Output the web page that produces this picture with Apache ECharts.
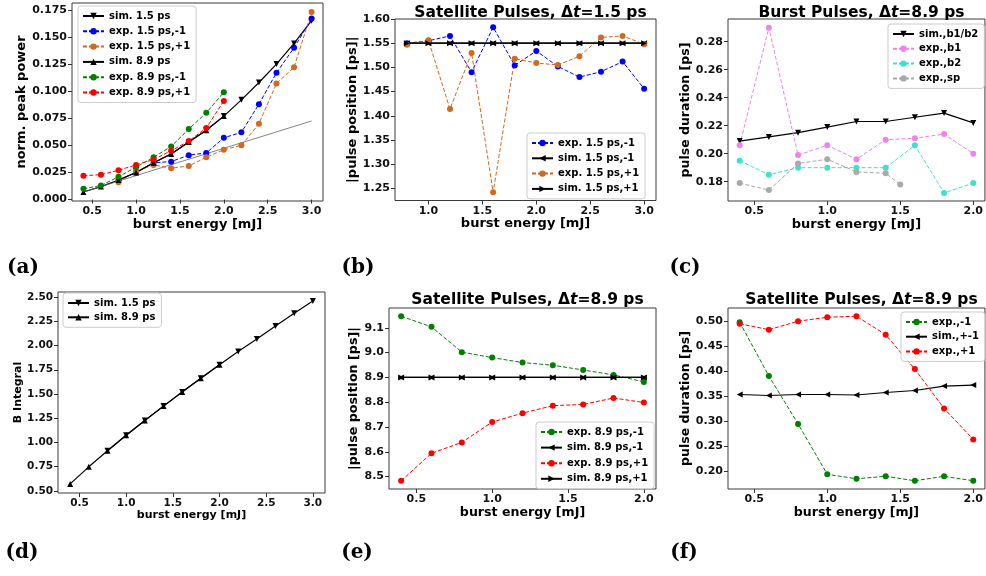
<!DOCTYPE html>
<html>
<head>
<meta charset="utf-8">
<script src="https://cdn.jsdelivr.net/npm/echarts@6/dist/echarts.min.js"></script>
<style>
  html, body { margin: 0; padding: 0; background: #fff; }
  #chart { width: 986px; height: 576px; }
</style>
</head>
<body>
<div id="chart"></div>
<script>
// ---- burst energies [mJ] ----
const energy04to30 = [0.4, 0.6, 0.8, 1.0, 1.2, 1.4, 1.6, 1.8, 2.0, 2.2, 2.4, 2.6, 2.8, 3.0];
const energy08to30 = [0.8, 1.0, 1.2, 1.4, 1.6, 1.8, 2.0, 2.2, 2.4, 2.6, 2.8, 3.0];
const energy04to20 = [0.4, 0.6, 0.8, 1.0, 1.2, 1.4, 1.6, 1.8, 2.0];
const energy04to15 = [0.4, 0.6, 0.8, 1.0, 1.2, 1.4, 1.5];

// ---- (a) normalised peak power ----
const peakSim15 = [0.018, 0.025, 0.034, 0.042, 0.053, 0.064, 0.077, 0.092, 0.108, 0.125, 0.144, 0.165];
const peakExp15m = [0.018, 0.025, 0.034, 0.035, 0.041, 0.043, 0.057, 0.062, 0.088, 0.117, 0.140, 0.167];
const peakExp15p = [0.016, 0.026, 0.032, 0.029, 0.031, 0.039, 0.046, 0.050, 0.070, 0.107, 0.122, 0.173];
const peakSim89 = [0.007, 0.012, 0.018, 0.025, 0.034, 0.042, 0.053, 0.064, 0.077];
const peakExp89m = [0.010, 0.013, 0.021, 0.030, 0.039, 0.049, 0.065, 0.080, 0.099];
const peakExp89p = [0.022, 0.023, 0.027, 0.032, 0.037, 0.045, 0.054, 0.066, 0.091];
const linearRefX = [0.4, 3.0];
const linearRefY = [0.007, 0.0725];

// ---- (b) satellite position, dt = 1.5 ps ----
const posExp15m = [1.550, 1.555, 1.565, 1.490, 1.583, 1.504, 1.534, 1.502, 1.480, 1.491, 1.512, 1.456];
const posSim15m = [1.55, 1.55, 1.55, 1.55, 1.55, 1.55, 1.55, 1.55, 1.55, 1.55, 1.55, 1.55];
const posExp15p = [1.547, 1.556, 1.414, 1.530, 1.242, 1.518, 1.509, 1.505, 1.523, 1.562, 1.565, 1.548];
const posSim15p = [1.55, 1.55, 1.55, 1.55, 1.55, 1.55, 1.55, 1.55, 1.55, 1.55, 1.55, 1.55];

// ---- (c) burst pulse duration, dt = 8.9 ps ----
const durSimB = [0.209, 0.212, 0.215, 0.219, 0.223, 0.223, 0.226, 0.229, 0.222];
const durExpB1 = [0.206, 0.290, 0.199, 0.206, 0.196, 0.210, 0.211, 0.214, 0.200];
const durExpB2 = [0.195, 0.185, 0.190, 0.190, 0.190, 0.190, 0.206, 0.172, 0.179];
const durExpSp = [0.179, 0.174, 0.193, 0.196, 0.187, 0.186, 0.178];

// ---- (d) B integral ----
const bIntSim15 = [0.915, 1.074, 1.227, 1.375, 1.521, 1.663, 1.801, 1.939, 2.067, 2.202, 2.334, 2.458];
const bIntSim89 = [0.573, 0.749, 0.915, 1.074, 1.227, 1.375, 1.521, 1.663, 1.801];

// ---- (e) satellite position, dt = 8.9 ps ----
const posExp89m = [9.147, 9.104, 9.002, 8.980, 8.960, 8.949, 8.930, 8.910, 8.882];
const posSim89m = [8.9, 8.9, 8.9, 8.9, 8.9, 8.9, 8.9, 8.9, 8.9];
const posExp89p = [8.483, 8.594, 8.638, 8.720, 8.756, 8.786, 8.791, 8.817, 8.799];
const posSim89p = [8.9, 8.9, 8.9, 8.9, 8.9, 8.9, 8.9, 8.9, 8.9];

// ---- (f) satellite pulse duration, dt = 8.9 ps ----
const satDurExpM = [0.498, 0.390, 0.294, 0.193, 0.184, 0.189, 0.180, 0.189, 0.180];
const satDurSim = [0.353, 0.351, 0.353, 0.353, 0.352, 0.357, 0.361, 0.370, 0.372];
const satDurExpP = [0.495, 0.483, 0.500, 0.508, 0.510, 0.473, 0.404, 0.325, 0.263];

// ---- tick labels ----
const ticksX30 = [0.5, 1.0, 1.5, 2.0, 2.5, 3.0];
const ticksX30b = [1.0, 1.5, 2.0, 2.5, 3.0];
const ticksX20 = [0.5, 1.0, 1.5, 2.0];
const ticksYa = [0.000, 0.025, 0.050, 0.075, 0.100, 0.125, 0.150, 0.175];
const ticksYb = [1.25, 1.30, 1.35, 1.40, 1.45, 1.50, 1.55, 1.60];
const ticksYc = [0.18, 0.20, 0.22, 0.24, 0.26, 0.28];
const ticksYd = [0.50, 0.75, 1.00, 1.25, 1.50, 1.75, 2.00, 2.25, 2.50];
const ticksYe = [8.5, 8.6, 8.7, 8.8, 8.9, 9.0, 9.1];
const ticksYf = [0.20, 0.25, 0.30, 0.35, 0.40, 0.45, 0.50];

const FONT = 'DejaVu Sans';
const zip = (xs, ys) => xs.map((x, i) => [x, ys[i]]);

// grid rectangles of the six panels
const grids = [
  { left: 72,  top: 3,   width: 251, height: 198 },
  { left: 395, top: 19,  width: 261, height: 181.5 },
  { left: 728, top: 19,  width: 257, height: 182 },
  { left: 58,  top: 292, width: 267, height: 201 },
  { left: 389, top: 308, width: 267, height: 181 },
  { left: 728, top: 308, width: 257, height: 181 }
].map(g => Object.assign({ show: true, borderColor: '#3a3a3a', borderWidth: 1, backgroundColor: 'transparent', containLabel: false }, g));

function xAxisFor(idx, min, max, ticks, dec, fs, nameSize, gap) {
  return {
    type: 'value', gridIndex: idx, min: min, max: max,
    name: 'burst energy [mJ]', nameLocation: 'middle', nameGap: gap,
    nameTextStyle: { fontFamily: FONT, fontWeight: 'bold', fontSize: nameSize, color: '#000' },
    axisLine: { show: false },
    axisTick: { show: true, length: 4, customValues: ticks, lineStyle: { color: '#333' } },
    axisLabel: { customValues: ticks, margin: 5, fontFamily: FONT, fontWeight: 'bold', fontSize: fs, color: '#111',
                 formatter: v => Number(v).toFixed(dec) },
    splitLine: { show: false }
  };
}
function yAxisFor(idx, min, max, ticks, dec, fs, name, nameSize, gap) {
  return {
    type: 'value', gridIndex: idx, min: min, max: max,
    name: name, nameLocation: 'middle', nameRotate: 90, nameGap: gap,
    nameTextStyle: { fontFamily: FONT, fontWeight: 'bold', fontSize: nameSize, color: '#000' },
    axisLine: { show: false },
    axisTick: { show: true, length: 4, customValues: ticks, lineStyle: { color: '#333' } },
    axisLabel: { customValues: ticks, margin: 5, fontFamily: FONT, fontWeight: 'bold', fontSize: fs, color: '#111',
                 formatter: v => Number(v).toFixed(dec) },
    splitLine: { show: false }
  };
}

// experimental data: dashed line with round markers
function expSeries(name, idx, xs, ys, color) {
  return {
    type: 'line', name: name, xAxisIndex: idx, yAxisIndex: idx, data: zip(xs, ys),
    symbol: 'circle', symbolSize: 6, showSymbol: true,
    itemStyle: { color: color },
    lineStyle: { color: color, width: 1, type: [4, 2] },
    emphasis: { disabled: true }, animation: false
  };
}
// simulation: solid black line with triangle markers
function simSeries(name, idx, xs, ys, rotate) {
  return {
    type: 'line', name: name, xAxisIndex: idx, yAxisIndex: idx, data: zip(xs, ys),
    symbol: 'triangle', symbolSize: 6, symbolRotate: rotate, showSymbol: true,
    itemStyle: { color: '#000' },
    lineStyle: { color: '#000', width: 1.2, type: 'solid' },
    emphasis: { disabled: true }, animation: false
  };
}

const DOWN = 180, UP = 0, LEFT = 90, RIGHT = -90;

const series = [
  // (a)
  simSeries('sim. 1.5 ps', 0, energy08to30, peakSim15, DOWN),
  expSeries('exp. 1.5 ps,-1', 0, energy08to30, peakExp15m, '#0000ff'),
  expSeries('exp. 1.5 ps,+1', 0, energy08to30, peakExp15p, '#d2691e'),
  simSeries('sim. 8.9 ps', 0, energy04to20, peakSim89, UP),
  expSeries('exp. 8.9 ps,-1', 0, energy04to20, peakExp89m, '#008000'),
  expSeries('exp. 8.9 ps,+1', 0, energy04to20, peakExp89p, '#ff0000'),
  {
    type: 'line', name: 'linear', xAxisIndex: 0, yAxisIndex: 0, data: zip(linearRefX, linearRefY),
    symbol: 'none', lineStyle: { color: '#666', width: 0.8 }, emphasis: { disabled: true }, animation: false
  },
  // (b)
  expSeries('exp. 1.5 ps,-1', 1, energy08to30, posExp15m, '#0000ff'),
  simSeries('sim. 1.5 ps,-1', 1, energy08to30, posSim15m, LEFT),
  expSeries('exp. 1.5 ps,+1', 1, energy08to30, posExp15p, '#d2691e'),
  simSeries('sim. 1.5 ps,+1', 1, energy08to30, posSim15p, RIGHT),
  // (c)
  simSeries('sim.,b1/b2', 2, energy04to20, durSimB, DOWN),
  expSeries('exp.,b1', 2, energy04to20, durExpB1, '#ee82ee'),
  expSeries('exp.,b2', 2, energy04to20, durExpB2, '#40e0d0'),
  expSeries('exp.,sp', 2, energy04to15, durExpSp, '#a9a9a9'),
  // (d)
  simSeries('sim. 1.5 ps', 3, energy08to30, bIntSim15, DOWN),
  simSeries('sim. 8.9 ps', 3, energy04to20, bIntSim89, UP),
  // (e)
  expSeries('exp. 8.9 ps,-1', 4, energy04to20, posExp89m, '#008000'),
  simSeries('sim. 8.9 ps,-1', 4, energy04to20, posSim89m, LEFT),
  expSeries('exp. 8.9 ps,+1', 4, energy04to20, posExp89p, '#ff0000'),
  simSeries('sim. 8.9 ps,+1', 4, energy04to20, posSim89p, RIGHT),
  // (f)
  expSeries('exp.,-1', 5, energy04to20, satDurExpM, '#008000'),
  simSeries('sim.,+-1', 5, energy04to20, satDurSim, LEFT),
  expSeries('exp.,+1', 5, energy04to20, satDurExpP, '#ff0000')
];

function legendAt(left, top, names, gap) {
  return {
    show: true, orient: 'vertical', left: left, top: top, data: names,
    itemWidth: 21, itemHeight: 8, itemGap: gap,
    padding: [4, 6, 4, 4],
    backgroundColor: 'rgba(255,255,255,0.85)', borderColor: '#cccccc', borderWidth: 1, borderRadius: 3,
    selectedMode: false,
    textStyle: { fontFamily: FONT, fontWeight: 'bold', fontSize: 10, color: '#000', lineHeight: 12 }
  };
}

function titleAt(cx, top, pre, post) {
  return {
    left: cx, top: top, textAlign: 'center',
    text: '{b|' + pre + 'Δ}{i|t}{b|' + post + '}',
    textStyle: {
      rich: {
        b: { fontFamily: FONT, fontWeight: 'bold', fontSize: 15.5, color: '#000' },
        i: { fontFamily: FONT, fontWeight: 'bold', fontStyle: 'italic', fontSize: 15.5, color: '#000' }
      }
    }
  };
}

function panelTag(text, x, y) {
  return {
    type: 'text', x: x, y: y, silent: true,
    style: { text: text, font: 'bold 20px "DejaVu Serif"', fill: '#000', align: 'center', verticalAlign: 'middle' }
  };
}

const option = {
  backgroundColor: '#ffffff',
  animation: false,
  grid: grids,
  xAxis: [
    xAxisFor(0, 0.27, 3.13, ticksX30, 1, 11, 13, 16),
    xAxisFor(1, 0.69, 3.11, ticksX30b, 1, 11, 13, 16),
    xAxisFor(2, 0.32, 2.08, ticksX20, 1, 11, 13, 16),
    xAxisFor(3, 0.27, 3.13, ticksX30, 1, 10.5, 11, 15),
    xAxisFor(4, 0.32, 2.08, ticksX20, 1, 11, 12.6, 17),
    xAxisFor(5, 0.32, 2.08, ticksX20, 1, 11, 12.6, 17)
  ],
  yAxis: [
    yAxisFor(0, -0.0013, 0.1813, ticksYa, 3, 11, 'norm. peak power', 13, 36),
    yAxisFor(1, 1.225, 1.600, ticksYb, 2, 11, '|pulse position [ps]|', 13, 30),
    yAxisFor(2, 0.1662, 0.2962, ticksYc, 2, 11, 'pulse duration [ps]', 12.5, 30),
    yAxisFor(3, 0.479, 2.552, ticksYd, 2, 10.5, 'B Integral', 11, 29),
    yAxisFor(4, 8.450, 9.180, ticksYe, 1, 11, '|pulse position [ps]|', 12.7, 24),
    yAxisFor(5, 0.1635, 0.5265, ticksYf, 2, 11, 'pulse duration [ps]', 12.5, 30)
  ],
  title: [
    titleAt(525.5, 0, 'Satellite Pulses, ', '=1.5 ps'),
    titleAt(856.5, 0, 'Burst Pulses, ', '=8.9 ps'),
    titleAt(522.5, 287, 'Satellite Pulses, ', '=8.9 ps'),
    titleAt(856.5, 287, 'Satellite Pulses, ', '=8.9 ps')
  ],
  legend: [
    legendAt(78, 6, ['sim. 1.5 ps', 'exp. 1.5 ps,-1', 'exp. 1.5 ps,+1', 'sim. 8.9 ps', 'exp. 8.9 ps,-1', 'exp. 8.9 ps,+1'], 3.3),
    legendAt(527, 133, ['exp. 1.5 ps,-1', 'sim. 1.5 ps,-1', 'exp. 1.5 ps,+1', 'sim. 1.5 ps,+1'], 3.3),
    legendAt(888, 24, ['sim.,b1/b2', 'exp.,b1', 'exp.,b2', 'exp.,sp'], 2.8),
    legendAt(63, 293, ['sim. 1.5 ps', 'sim. 8.9 ps'], 2.3),
    legendAt(536, 422, ['exp. 8.9 ps,-1', 'sim. 8.9 ps,-1', 'exp. 8.9 ps,+1', 'sim. 8.9 ps,+1'], 3.6),
    legendAt(901, 312, ['exp.,-1', 'sim.,+-1', 'exp.,+1'], 2.7)
  ],
  graphic: [
    panelTag('(a)', 23, 268),
    panelTag('(b)', 358, 268),
    panelTag('(c)', 685, 268),
    panelTag('(d)', 22, 553),
    panelTag('(e)', 357, 553),
    panelTag('(f)', 684, 553)
  ],
  series: series
};

const chart = echarts.init(document.getElementById('chart'), null, { renderer: 'canvas' });
chart.setOption(option);
</script>
</body>
</html>
